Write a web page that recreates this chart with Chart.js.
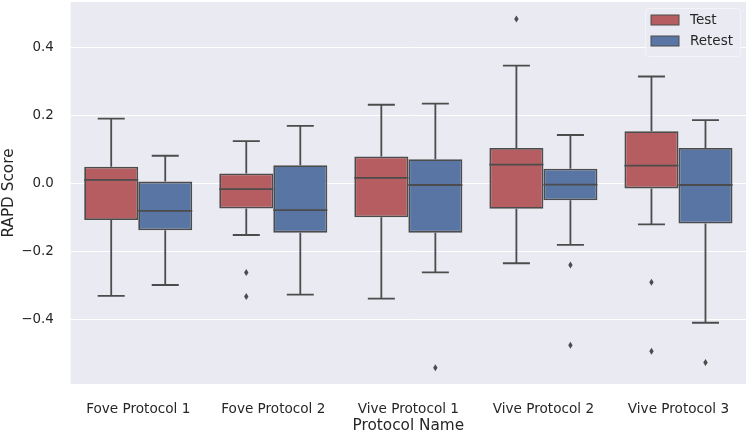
<!DOCTYPE html>
<html>
<head>
<meta charset="utf-8">
<script src="https://cdn.jsdelivr.net/npm/chart.js@4.4.1/dist/chart.umd.min.js"></script>
<style>
  html, body { margin: 0; padding: 0; background: #fff; }
  #wrap { width: 750px; height: 433px; }
</style>
</head>
<body>
<div id="wrap"><canvas id="chart"></canvas></div>
<script>
// values
const categories = ["Fove Protocol 1", "Fove Protocol 2", "Vive Protocol 1", "Vive Protocol 2", "Vive Protocol 3"];

const testLow    = [-0.331, -0.152, -0.339, -0.235, -0.121];
const testQ1     = [-0.108, -0.074, -0.100, -0.075, -0.015];
const testMedian = [ 0.010, -0.017,  0.016,  0.055,  0.052];
const testQ3     = [ 0.049,  0.029,  0.079,  0.104,  0.153];
const testHigh   = [ 0.190,  0.124,  0.231,  0.346,  0.314];
const testOutliers = [[], [-0.262, -0.333], [], [0.483], [-0.291, -0.494]];

const retestLow    = [-0.299, -0.327, -0.262, -0.181, -0.410];
const retestQ1     = [-0.138, -0.145, -0.145, -0.050, -0.118];
const retestMedian = [-0.081, -0.079, -0.005, -0.004, -0.005];
const retestQ3     = [ 0.005,  0.053,  0.071,  0.043,  0.104];
const retestHigh   = [ 0.081,  0.169,  0.234,  0.142,  0.186];
const retestOutliers = [[], [], [-0.542], [-0.240, -0.476], [-0.527]];

const yTicks = [-0.4, -0.2, 0.0, 0.2, 0.4];

const RED = "#b55d60";
const BLUE = "#5875a3";
const LINE = "#4c4c4c";
const TEXT = "#262626";
const FONT = "'DejaVu Sans', sans-serif";

const stats = [
  { low: testLow, med: testMedian, high: testHigh, out: testOutliers },
  { low: retestLow, med: retestMedian, high: retestHigh, out: retestOutliers }
];

const boxPlugin = {
  id: "boxParts",
  beforeDraw(chart) {
    const { ctx, chartArea: a } = chart;
    ctx.save();
    ctx.fillStyle = "#eaeaf2";
    ctx.fillRect(a.left, a.top, a.right - a.left, a.bottom - a.top);
    ctx.restore();
  },
  afterDatasetsDraw(chart) {
    const { ctx } = chart;
    const y = chart.scales.y;
    ctx.save();
    ctx.strokeStyle = LINE;
    ctx.fillStyle = LINE;
    ctx.lineWidth = 1.8;
    stats.forEach((s, d) => {
      const meta = chart.getDatasetMeta(d);
      const q = chart.data.datasets[d].data;
      meta.data.forEach((bar, i) => {
        const x = bar.x, w = bar.width;
        const yq1 = y.getPixelForValue(q[i][0]);
        const yq3 = y.getPixelForValue(q[i][1]);
        const yLo = y.getPixelForValue(s.low[i]);
        const yHi = y.getPixelForValue(s.high[i]);
        const yMed = y.getPixelForValue(s.med[i]);
        ctx.beginPath();
        // median
        ctx.moveTo(x - w / 2, yMed); ctx.lineTo(x + w / 2, yMed);
        // whiskers
        ctx.moveTo(x, yq3); ctx.lineTo(x, yHi);
        ctx.moveTo(x, yq1); ctx.lineTo(x, yLo);
        // caps
        ctx.moveTo(x - w / 4, yHi); ctx.lineTo(x + w / 4, yHi);
        ctx.moveTo(x - w / 4, yLo); ctx.lineTo(x + w / 4, yLo);
        ctx.stroke();
        // outliers, thin diamonds
        s.out[i].forEach(v => {
          const py = y.getPixelForValue(v);
          ctx.beginPath();
          ctx.moveTo(x, py - 3.5);
          ctx.lineTo(x + 2.2, py);
          ctx.lineTo(x, py + 3.5);
          ctx.lineTo(x - 2.2, py);
          ctx.closePath();
          ctx.fill();
        });
      });
    });
    ctx.restore();
  },
  afterDraw(chart) {
    // legend in upper right corner of the plot
    const { ctx, chartArea: a } = chart;
    const bx = a.right - 101, by = a.top + 6, bw = 95, bh = 48;
    ctx.save();
    ctx.fillStyle = "rgba(234,234,242,0.85)";
    ctx.strokeStyle = "#f4f4f8";
    ctx.lineWidth = 1;
    ctx.beginPath();
    ctx.roundRect(bx + 0.5, by + 0.5, bw, bh, 3);
    ctx.fill();
    ctx.stroke();
    const items = chart.data.datasets;
    ctx.font = "13.5px " + FONT;
    ctx.textBaseline = "middle";
    items.forEach((ds, k) => {
      const ry = by + 12 + k * 21;
      ctx.fillStyle = ds.backgroundColor;
      ctx.fillRect(bx + 6, ry - 5, 28, 10);
      ctx.strokeStyle = LINE;
      ctx.lineWidth = 1;
      ctx.strokeRect(bx + 6, ry - 5, 28, 10);
      ctx.fillStyle = TEXT;
      ctx.fillText(ds.label, bx + 45, ry);
    });
    ctx.restore();
  }
};

new Chart(document.getElementById("chart"), {
  type: "bar",
  data: {
    labels: categories,
    datasets: [
      {
        label: "Test",
        data: categories.map((c, i) => [testQ1[i], testQ3[i]]),
        backgroundColor: RED,
        borderColor: LINE,
        borderWidth: 1.8,
        borderSkipped: false
      },
      {
        label: "Retest",
        data: categories.map((c, i) => [retestQ1[i], retestQ3[i]]),
        backgroundColor: BLUE,
        borderColor: LINE,
        borderWidth: 1.8,
        borderSkipped: false
      }
    ]
  },
  options: {
    responsive: true,
    maintainAspectRatio: false,
    animation: false,
    categoryPercentage: 0.8,
    barPercentage: 1.0,
    layout: { autoPadding: false, padding: { top: 2, right: 4, left: 0, bottom: 0 } },
    plugins: {
      legend: { display: false },
      tooltip: { enabled: false }
    },
    scales: {
      x: {
        grid: { display: false },
        border: { display: false },
        ticks: { color: TEXT, font: { family: FONT, size: 13.6 }, padding: 9 },
        title: { display: true, text: "Protocol Name", color: TEXT, font: { family: FONT, size: 15.3 }, padding: { top: 0, bottom: -2 } },
        afterFit(scale) { scale.height = 49; }
      },
      y: {
        min: -0.59,
        max: 0.533,
        grid: { color: "#ffffff", lineWidth: 1, drawTicks: false },
        border: { display: false },
        afterBuildTicks(scale) { scale.ticks = yTicks.map(v => ({ value: v })); },
        ticks: {
          color: TEXT,
          font: { family: FONT, size: 13.4 },
          padding: 17,
          callback: v => v.toFixed(1).replace("-", "\u2212")
        },
        title: { display: true, text: "RAPD Score", color: TEXT, font: { family: FONT, size: 15.3 }, padding: 0 },
        afterFit(scale) {
          scale.width = 70.7;
          scale.paddingTop = 0;
          scale.paddingBottom = 0;
        }
      }
    }
  },
  plugins: [boxPlugin]
});
</script>
</body>
</html>
